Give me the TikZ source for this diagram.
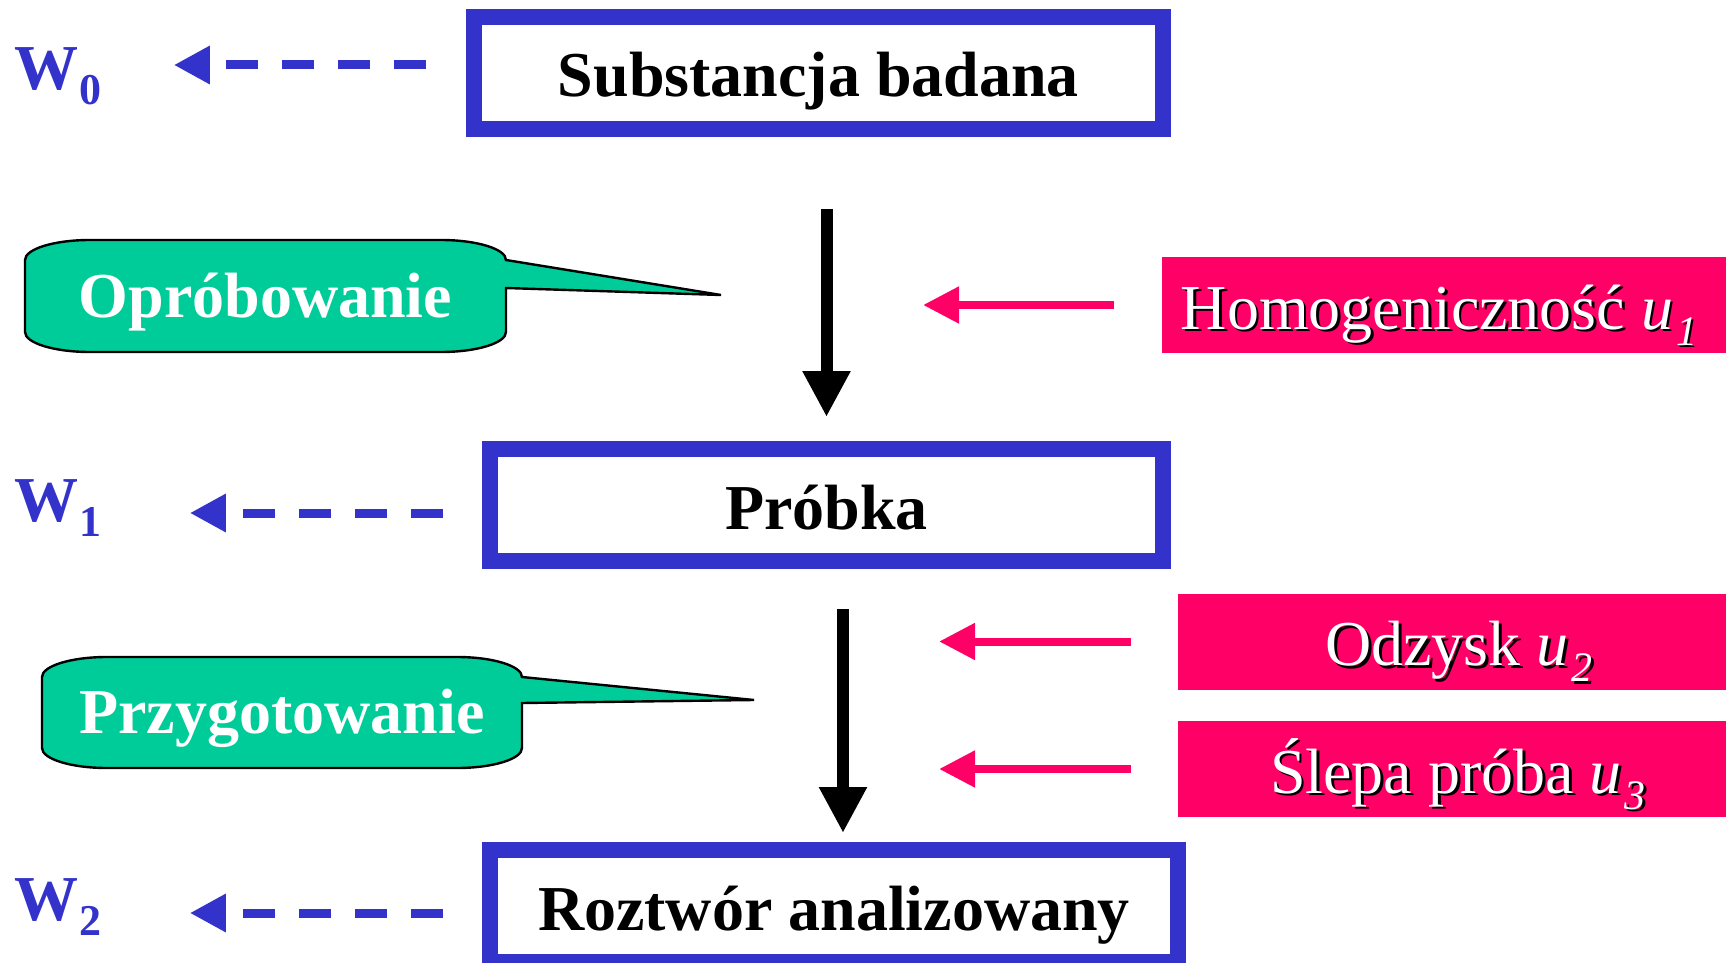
\documentclass[tikz,border=0pt]{standalone}
\usepackage{fontspec}
\setmainfont{Liberation Serif}
\usetikzlibrary{arrows.meta,calc}

\definecolor{boxblue}{HTML}{3333CC}
\definecolor{hotpink}{HTML}{FF0066}
\definecolor{calloutgreen}{HTML}{00CC99}

\newcommand{\shadowed}[1]{\rlap{\kern1.4pt\raisebox{-1.4pt}{\color{black}#1}}#1}
\newcommand{\usub}[1]{\textit{u}\kern1.5pt\raisebox{-8pt}{\fontsize{21}{21}\selectfont\itshape #1}}
\newcommand{\wsub}[1]{W\kern0.5pt\raisebox{-7.5pt}{\fontsize{22}{22}\selectfont #1}}

\begin{document}
\begin{tikzpicture}[x=0.5pt, y=-0.5pt,
		stage/.style={draw=boxblue, line width=8pt, fill=white, minimum height=56pt, text height=24pt, text depth=0pt, font=\fontsize{32}{38}\selectfont\bfseries},
		source/.style={fill=hotpink, text=white, inner sep=0pt, minimum height=48pt, text height=24pt, text depth=0pt, font=\fontsize{32}{38}\selectfont},
		wlabel/.style={anchor=base west, inner sep=0pt, text=boxblue, font=\fontsize{32}{38}\selectfont\bfseries},
		notetext/.style={anchor=base, inner sep=0pt, text=white, font=\fontsize{32}{38}\selectfont\bfseries},
		note/.style={draw=black, line width=1.2pt, fill=calloutgreen},
		flow/.style={draw=black, line width=6pt, -{Triangle[length=23pt, width=22.5pt]}},
		feed/.style={draw=hotpink, line width=4pt, -{Triangle[length=18pt, width=17.5pt]}},
		loss/.style={draw=boxblue, line width=4.5pt, dash pattern=on 16pt off 12pt, -{Triangle[length=18pt, width=18pt]}}]
		\fill[white] (0,0) rectangle (1726,963);
		\useasboundingbox (0,0) rectangle (1726,963);

		% callouts
		\draw[note] (25,260) .. controls (25,249) and (54,240) .. (90,240) -- (441,240) .. controls (477,240) and (506,249) .. (506,260)
		-- (721,295) -- (506,288) -- (506,332) .. controls (506,343) and (477,352) .. (441,352)
		-- (90,352) .. controls (54,352) and (25,343) .. (25,332) -- cycle;
		\draw[note] (42,677) .. controls (42,666) and (71,657) .. (107,657) -- (457,657) .. controls (493,657) and (522,666) .. (522,677)
		-- (754,700) -- (522,703) -- (522,748) .. controls (522,759) and (493,768) .. (457,768)
		-- (107,768) .. controls (71,768) and (42,759) .. (42,748) -- cycle;
		\node[notetext] (probe) at (265.5,317) {Opróbowanie};
		\node[notetext] (prep) at (282,733) {Przygotowanie};

		% stages
		\node[stage, minimum width=344.5pt] (sub) at (818.5,73) {Substancja badana};
		\node[stage, minimum width=336.5pt] (probka) at (826.5,505) {Próbka};
		\node[stage, minimum width=344pt] (roztwor) at (834,906) {Roztwór analizowany};

		% uncertainty sources
		\node[source, minimum width=282pt] (homog) at (1444,305) {\shadowed{Homogeniczność \usub{1}}\kern5pt};
		\node[source, minimum width=274pt] (odzysk) at (1452,641.5) {\kern7pt\shadowed{Odzysk \usub{2}}};
		\node[source, minimum width=274pt] (slepa) at (1452,769) {\kern6pt\shadowed{Ślepa próba \usub{3}}};

		% W labels
		\node[wlabel] (w0) at (14,90) {\wsub{0}};
		\node[wlabel] (w1) at (14,521) {\wsub{1}};
		\node[wlabel] (w2) at (14,920) {\wsub{2}};

		\draw[flow, shorten <=36pt, shorten >=12pt] (sub.south -| probka.north) -- (probka.north);
		\draw[flow, shorten <=20pt, shorten >=4.5pt] ($(probka.south -| roztwor.north)+(9,0)$) -- ($(roztwor.north)+(9,0)$);

		\draw[feed, shorten <=24pt, shorten >=48.25pt] (homog.west) -- (homog.west -| probka.north);
		\draw[feed, shorten <=23.5pt, shorten >=52.5pt] (odzysk.west) -- (odzysk.west -| roztwor.north);
		\draw[feed, shorten <=23.5pt, shorten >=52.5pt] (slepa.west) -- (slepa.west -| roztwor.north);

		\draw[loss, shorten <=20pt, shorten >=36pt] ([yshift=4pt]sub.west) -- ([yshift=4pt]sub.west -| w0.east);
		\draw[loss, shorten <=19.5pt, shorten >=44pt] ([yshift=-4pt]probka.west) -- ([yshift=-4pt]probka.west -| w1.east);
		\draw[loss, shorten <=19.5pt, shorten >=44pt] ([yshift=-3.5pt]roztwor.west) -- ([yshift=-3.5pt]roztwor.west -| w2.east);
	\end{tikzpicture}
\end{document}
